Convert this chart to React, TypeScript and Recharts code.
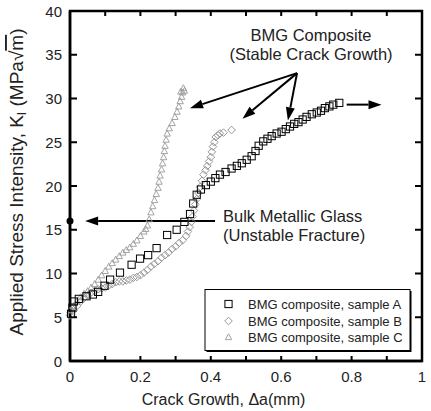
import React from "react";
import { ScatterChart, Scatter, XAxis, YAxis, ReferenceLine, ReferenceDot } from "recharts";

const FONT = "'Liberation Sans', Arial, Helvetica, sans-serif";
const W = 431;
const H = 411;
const MARGIN = { top: 11, right: 9, bottom: 0, left: 0 };
const X_AXIS_H = 50;
const Y_AXIS_W = 70;

const xTicks = [0, 0.1, 0.2, 0.3, 0.4, 0.5, 0.6, 0.7, 0.8, 0.9, 1];
const yTicks = [0, 5, 10, 15, 20, 25, 30, 35, 40];

// crack growth (mm), K (MPa√m)
const sampleA: [number, number][] = [
  [0.003, 5.4], [0.007, 6.1], [0.011, 6.8], [0.025, 7.1], [0.047, 7.4], [0.065, 7.6],
  [0.08, 7.9], [0.098, 8.6], [0.114, 9.3], [0.142, 10.1], [0.175, 11.0], [0.199, 11.7],
  [0.222, 12.1], [0.246, 12.9], [0.276, 14.4], [0.303, 15.0], [0.325, 15.9], [0.341, 16.8],
  [0.35, 18.0], [0.36, 19.0], [0.372, 19.6], [0.386, 20.1], [0.4, 20.5], [0.413, 20.9],
  [0.426, 21.3], [0.442, 21.6], [0.459, 22.0], [0.474, 22.3], [0.488, 22.6], [0.502, 23.0],
  [0.516, 23.4], [0.527, 24.0], [0.536, 24.6], [0.549, 25.1], [0.561, 25.4], [0.573, 25.7],
  [0.587, 26.0], [0.601, 26.2], [0.613, 26.5], [0.625, 26.8], [0.637, 27.1], [0.649, 27.3],
  [0.661, 27.6], [0.672, 27.9], [0.687, 28.2], [0.701, 28.4], [0.713, 28.6], [0.724, 28.9],
  [0.737, 29.1], [0.748, 29.3], [0.765, 29.5],
];

const sampleB: [number, number][] = [
  [0.0, 5.2], [0.01, 5.8], [0.02, 6.3], [0.03, 6.8], [0.04, 7.2], [0.05, 7.5], [0.06, 7.8],
  [0.07, 8.0], [0.08, 8.2], [0.09, 8.3], [0.1, 8.4], [0.11, 8.6], [0.12, 8.8], [0.13, 9.0],
  [0.14, 9.1], [0.15, 9.1], [0.16, 9.2], [0.17, 9.3], [0.18, 9.5], [0.19, 9.6], [0.2, 9.8],
  [0.21, 10.1], [0.22, 10.4], [0.23, 10.8], [0.24, 11.1], [0.25, 11.4], [0.26, 11.8],
  [0.27, 12.1], [0.28, 12.4], [0.29, 12.8], [0.3, 13.1], [0.31, 13.5], [0.32, 13.8],
  [0.33, 14.3], [0.335, 14.8], [0.34, 15.3], [0.345, 15.9], [0.348, 16.5], [0.352, 17.2],
  [0.356, 17.9], [0.36, 18.5], [0.365, 19.2], [0.37, 19.9], [0.375, 20.6], [0.379, 21.3],
  [0.385, 21.8], [0.39, 22.3], [0.395, 22.8], [0.4, 23.3], [0.403, 23.9], [0.406, 24.5],
  [0.41, 25.0], [0.414, 25.6], [0.42, 25.8], [0.426, 26.0], [0.436, 26.1], [0.459, 26.4],
];

const sampleC: [number, number][] = [
  [0.0, 5.8], [0.01, 6.3], [0.02, 6.8], [0.03, 7.3], [0.04, 7.7], [0.05, 8.0], [0.06, 8.4],
  [0.07, 8.8], [0.08, 9.3], [0.09, 9.8], [0.1, 10.3], [0.11, 10.8], [0.12, 11.2], [0.13, 11.6],
  [0.14, 12.0], [0.15, 12.4], [0.16, 12.7], [0.17, 13.0], [0.18, 13.4], [0.19, 13.8],
  [0.2, 14.3], [0.21, 14.8], [0.215, 15.1], [0.22, 15.5], [0.225, 16.2], [0.23, 17.0],
  [0.235, 17.7], [0.24, 18.4], [0.245, 19.1], [0.25, 19.8], [0.253, 20.5], [0.256, 21.2],
  [0.26, 21.9], [0.263, 22.6], [0.266, 23.3], [0.268, 24.0], [0.27, 24.6], [0.273, 25.3],
  [0.276, 26.0], [0.282, 26.6], [0.29, 27.2], [0.298, 27.9], [0.304, 28.5], [0.309, 29.1],
  [0.313, 29.7], [0.317, 30.2], [0.32, 30.7], [0.322, 31.2], [0.315, 30.8], [0.325, 30.9],
];

// annotation arrows: [from, to] in data units
const stableFrom = { x: 0.645, y: 32.9 };
const stableTips = [
  { x: 0.341, y: 28.9 },
  { x: 0.49, y: 27.7 },
  { x: 0.619, y: 27.5 },
];
const bmgK = 16;

const toPts = (d: [number, number][]) => d.map(([x, y]) => ({ x, y }));

// plot box, same as the one the axes produce
const PL = MARGIN.left + Y_AXIS_W;
const PT = MARGIN.top;
const PR = W - MARGIN.right;
const PB = H - MARGIN.bottom - X_AXIS_H;
const px = (v: number) => PL + (PR - PL) * v;
const py = (v: number) => PB - ((PB - PT) * v) / 40;

const SquareMark = (p: any) => (
  <rect x={p.cx - 3.6} y={p.cy - 3.6} width={7.2} height={7.2} fill="none" stroke="#000" strokeWidth={1} />
);
const DiamondMark = (p: any) => (
  <polygon
    points={`${p.cx},${p.cy - 3.8} ${p.cx + 3.8},${p.cy} ${p.cx},${p.cy + 3.8} ${p.cx - 3.8},${p.cy}`}
    fill="none"
    stroke="#8c8c8c"
    strokeWidth={0.9}
  />
);
const TriangleMark = (p: any) => (
  <polygon
    points={`${p.cx},${p.cy - 3.3} ${p.cx + 3.2},${p.cy + 2.6} ${p.cx - 3.2},${p.cy + 2.6}`}
    fill="none"
    stroke="#9a9a9a"
    strokeWidth={0.9}
  />
);

function Arrow(p: any) {
  const { x1, y1, x2, y2 } = p;
  const a = Math.atan2(y2 - y1, x2 - x1);
  const L = 13;
  const hw = 4.5;
  const bx = x2 - L * Math.cos(a);
  const by = y2 - L * Math.sin(a);
  const pts = `${x2},${y2} ${bx - hw * Math.sin(a)},${by + hw * Math.cos(a)} ${bx + hw * Math.sin(a)},${by - hw * Math.cos(a)}`;
  return (
    <g>
      <line x1={x1} y1={y1} x2={bx} y2={by} stroke="#000" strokeWidth={2} />
      <polygon points={pts} fill="#000" />
    </g>
  );
}

const fmtX = (v: number) => (v === 0 ? "0" : v === 1 ? "1" : v.toFixed(1));

function BottomTick(p: any) {
  const v = p.payload.value;
  if (Math.round(v * 10) % 2 !== 0) return <g />;
  return (
    <text x={p.x} y={p.y + 21} textAnchor="middle" fontSize={15} fill="#222" fontFamily={FONT}>
      {fmtX(v)}
    </text>
  );
}

function LeftTick(p: any) {
  return (
    <text x={p.x - 8} y={p.y + 5.5} textAnchor="end" fontSize={15} fill="#222" fontFamily={FONT}>
      {p.payload.value}
    </text>
  );
}

const axisLine = { stroke: "#000", strokeWidth: 2.5 };

export default function App() {
  return (
    <div style={{ position: "absolute", left: 0, top: 0, width: W, height: H, background: "#fff" }}>
      <ScatterChart width={W} height={H} margin={MARGIN}>
        <XAxis
          type="number" dataKey="x" domain={[0, 1]} ticks={xTicks} interval={0} height={X_AXIS_H}
          tickSize={0} tickMargin={0} tickLine={false} axisLine={axisLine} tick={BottomTick}
        />
        <YAxis
          type="number" dataKey="y" domain={[0, 40]} ticks={yTicks} interval={0} width={Y_AXIS_W}
          tickSize={0} tickMargin={0} tickLine={false} axisLine={axisLine} tick={LeftTick}
        />

        <Scatter name="BMG composite, sample C" data={toPts(sampleC)} shape={TriangleMark} isAnimationActive={false} />
        <Scatter name="BMG composite, sample B" data={toPts(sampleB)} shape={DiamondMark} isAnimationActive={false} />
        <Scatter name="BMG composite, sample A" data={toPts(sampleA)} shape={SquareMark} isAnimationActive={false} />

        {/* box frame with inward ticks on all four sides */}
        <g fill="#000">
          <rect x={PL} y={PT} width={PR - PL} height={PB - PT} fill="none" stroke="#000" strokeWidth={2.5} />
          {xTicks.map((t) => (
            <rect key={`tx${t}`} x={px(t) - 1} y={PT} width={2} height={5} />
          ))}
          {xTicks.map((t) => (
            <rect key={`bx${t}`} x={px(t) - 1} y={PB - 5} width={2} height={5} />
          ))}
          {yTicks.map((t) => (
            <rect key={`ry${t}`} x={PR - 7} y={py(t) - 1} width={7} height={2} />
          ))}
          {yTicks.map((t) => (
            <rect key={`ly${t}`} x={PL} y={py(t) - 1} width={7} height={2} />
          ))}
        </g>

        {stableTips.map((t, i) => (
          <ReferenceLine key={i} segment={[stableFrom, t]} shape={Arrow} ifOverflow="visible" />
        ))}
        <ReferenceLine segment={[{ x: 0.786, y: 29.3 }, { x: 0.885, y: 29.3 }]} shape={Arrow} ifOverflow="visible" />
        <ReferenceLine segment={[{ x: 0.412, y: bmgK }, { x: 0.043, y: bmgK }]} shape={Arrow} ifOverflow="visible" />
        <ReferenceDot x={0} y={bmgK} r={3.5} fill="#000" stroke="none" ifOverflow="visible" />

        <text x={311} y={41} textAnchor="middle" fontSize={16.5} fill="#222" fontFamily={FONT}>BMG Composite</text>
        <text x={311} y={60} textAnchor="middle" fontSize={16.5} fill="#222" fontFamily={FONT}>(Stable Crack Growth)</text>
        <text x={223} y={222} fontSize={16.5} fill="#222" fontFamily={FONT}>Bulk Metallic Glass</text>
        <text x={223} y={241} fontSize={16.5} fill="#222" fontFamily={FONT}>(Unstable Fracture)</text>

        <text x={223.5} y={405} textAnchor="middle" fontSize={16} fill="#222" fontFamily={FONT}>
          Crack Growth, Δa(mm)
        </text>
        <text transform="translate(23,182) rotate(-90)" textAnchor="middle" fontSize={19} fill="#222" fontFamily={FONT}>
          Applied Stress Intensity, K<tspan fontSize={12} dy={3}>I</tspan>
          <tspan dy={-3}> (MPa√</tspan>
          <tspan textDecoration="overline">m</tspan>)
        </text>

        <g fontFamily={FONT} fontSize={13} fill="#222">
          <rect x={206.5} y={291} width={205} height={61} fill="#000" />
          <rect x={205} y={289.5} width={205} height={61} fill="#fff" stroke="#000" strokeWidth={1} />
          <SquareMark cx={228.5} cy={304} />
          <text x={248} y={308.5}>BMG composite, sample A</text>
          <DiamondMark cx={228.5} cy={321} />
          <text x={248} y={325.5}>BMG composite, sample B</text>
          <TriangleMark cx={228.5} cy={337} />
          <text x={248} y={341.5}>BMG composite, sample C</text>
        </g>
      </ScatterChart>
    </div>
  );
}
